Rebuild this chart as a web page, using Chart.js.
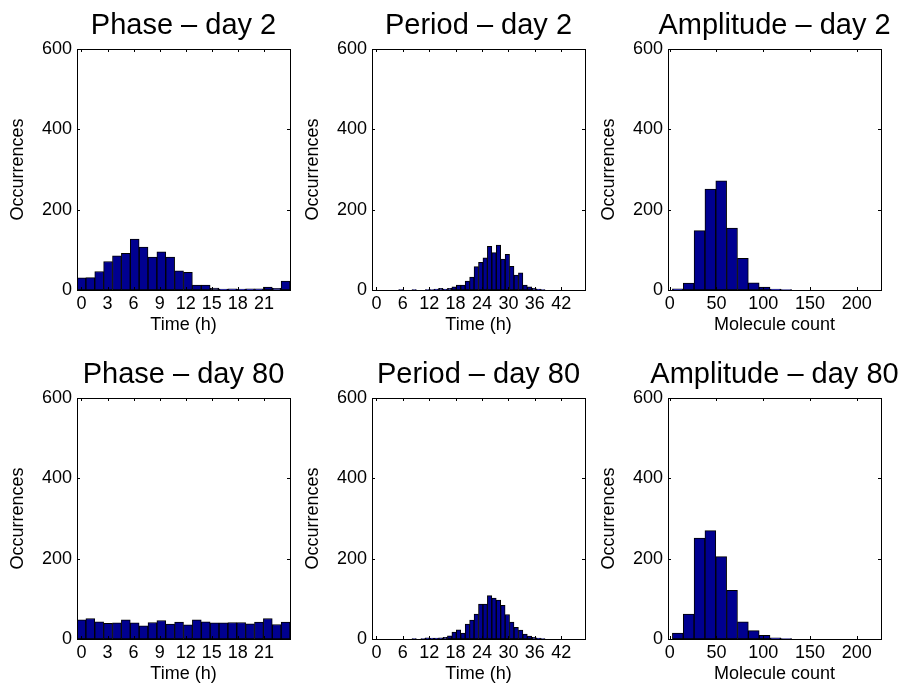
<!DOCTYPE html>
<html>
<head>
<meta charset="utf-8">
<script src="https://cdn.jsdelivr.net/npm/chart.js@4.4.0/dist/chart.umd.min.js"></script>
<style>
  html, body { margin: 0; padding: 0; background: #fff; overflow: hidden; }
  body { width: 904px; height: 695px; position: relative; }
  canvas { position: absolute; }
</style>
</head>
<body>
<script>
// contagens dos histogramas
var phaseDay2 = [30, 31, 46, 71, 85, 91, 127, 107, 82, 95, 82, 48, 44, 12, 12, 5, 2, 3, 2, 3, 3, 7, 4, 22];
var phaseDay80 = [48, 51, 43, 39, 40, 48, 40, 33, 41, 46, 37, 42, 35, 48, 43, 40, 40, 41, 41, 38, 42, 51, 36, 42];

var periodDay2 = [0, 0, 0, 0, 0, 0, 1, 0, 0, 1, 0, 0, 1, 1, 2, 4, 2, 4, 8, 12, 12, 22, 32, 58,
                  69, 80, 109, 93, 112, 77, 89, 59, 37, 43, 12, 8, 4, 2, 1, 0, 0, 0, 0, 0, 0, 0, 0, 0];
var periodDay80 = [0, 0, 0, 0, 0, 0, 0, 0, 0, 1, 0, 1, 3, 2, 2, 3, 4, 8, 17, 23, 15, 37, 47, 62,
                   87, 87, 108, 102, 97, 84, 61, 42, 29, 22, 12, 7, 4, 2, 1, 0, 0, 0, 0, 0, 0, 0, 0, 0];

var ampDay2 = [3, 17, 148, 251, 272, 154, 79, 18, 7, 2, 1, 0, 0, 0, 0, 0, 0, 0, 0];
var ampDay80 = [15, 62, 251, 270, 205, 121, 43, 21, 9, 3, 1, 0, 0, 0, 0, 0, 0, 0, 0];

var phaseTicks = [0, 3, 6, 9, 12, 15, 18, 21];
var periodTicks = [0, 6, 12, 18, 24, 30, 36, 42];
var ampTicks = [0, 50, 100, 150, 200];
var yTicks = [0, 200, 400, 600];

// faixa do eixo x e largura das classes de cada tipo de painel
var binsPhase = { min: -0.51, max: 24.0, start: -0.51, width: 1.0213 };
var binsPeriod = { min: -1.0, max: 47.4, start: -1.0, width: 1.0083 };
var binsAmp = { min: -1.8, max: 226, start: 2.9, width: 11.6 };

var fonte = 'Liberation Sans, Arial, Helvetica, sans-serif';
var colunas = [77, 372, 668];
var linhas = [49, 398];

// caixa do eixo com marcas para dentro, estilo matlab
var caixaEixos = {
    id: 'caixaEixos',
    afterDatasetsDraw: function (chart) {
        var ctx = chart.ctx;
        var a = chart.chartArea;
        var sx = chart.scales.x;
        var sy = chart.scales.y;
        var t = 3;
        ctx.save();
        ctx.strokeStyle = '#000';
        ctx.lineWidth = 1;
        ctx.beginPath();
        sx.ticks.forEach(function (tk) {
            var px = Math.round(sx.getPixelForValue(tk.value)) + 0.5;
            ctx.moveTo(px, a.bottom);
            ctx.lineTo(px, a.bottom - t);
            ctx.moveTo(px, a.top);
            ctx.lineTo(px, a.top + t);
        });
        sy.ticks.forEach(function (tk) {
            var py = Math.round(sy.getPixelForValue(tk.value)) + 0.5;
            ctx.moveTo(a.left, py);
            ctx.lineTo(a.left + t, py);
            ctx.moveTo(a.right, py);
            ctx.lineTo(a.right - t, py);
        });
        ctx.stroke();
        ctx.strokeRect(a.left + 0.5, a.top + 0.5, a.width, a.height);
        ctx.restore();
    }
};

function fixarTicks(lista) {
    return function (scale) {
        scale.ticks = lista.map(function (v) { return { value: v }; });
    };
}

function criarPainel(coluna, linha, titulo, rotuloX, valores, bins, ticksX) {
    var canvas = document.createElement('canvas');
    canvas.width = 367;
    canvas.height = 340;
    canvas.style.left = (colunas[coluna] - 77) + 'px';
    canvas.style.top = (linhas[linha] - 49) + 'px';
    document.body.appendChild(canvas);

    var pontos = valores.map(function (v, k) {
        return { x: bins.start + (k + 0.5) * bins.width, y: v };
    });

    new Chart(canvas, {
        type: 'bar',
        data: {
            datasets: [{
                data: pontos,
                backgroundColor: '#000090',
                borderColor: '#000',
                borderWidth: 1,
                borderSkipped: false,
                barPercentage: 1,
                categoryPercentage: 1
            }]
        },
        options: {
            responsive: false,
            animation: false,
            devicePixelRatio: 1,
            layout: { padding: 0 },
            plugins: {
                legend: { display: false },
                tooltip: { enabled: false },
                title: {
                    display: true,
                    text: titulo,
                    color: '#000',
                    font: { family: fonte, size: 29, weight: 'normal' },
                    padding: { top: 8.9, bottom: 5.3 }
                }
            },
            scales: {
                x: {
                    type: 'linear',
                    min: bins.min,
                    max: bins.max,
                    offset: false,
                    grid: { display: false, drawTicks: false },
                    border: { display: false },
                    afterBuildTicks: fixarTicks(ticksX),
                    afterFit: function (s) { s.height = 50; s.paddingLeft = 0; s.paddingRight = 0; },
                    ticks: { color: '#000', font: { family: fonte, size: 18 }, padding: 3, maxRotation: 0, autoSkip: false },
                    title: { display: true, text: rotuloX, color: '#000', font: { family: fonte, size: 18 }, padding: { top: 0, bottom: 4 } }
                },
                y: {
                    min: 0,
                    max: 600,
                    grid: { display: false, drawTicks: false },
                    border: { display: false },
                    afterBuildTicks: fixarTicks(yTicks),
                    afterFit: function (s) { s.width = 77; s.paddingTop = 0; s.paddingBottom = 0; },
                    ticks: { color: '#000', font: { family: fonte, size: 18 }, padding: 5 },
                    title: { display: true, text: 'Occurrences', color: '#000', font: { family: fonte, size: 18 }, padding: { top: 7, bottom: 0 } }
                },
                // eixo vazio do lado direito, só para centralizar o título sobre o gráfico
                direita: {
                    position: 'right',
                    grid: { display: false, drawTicks: false },
                    border: { display: false },
                    ticks: { display: false },
                    afterFit: function (s) { s.width = 77; s.paddingTop = 0; s.paddingBottom = 0; }
                }
            }
        },
        plugins: [caixaEixos]
    });
}

criarPainel(0, 0, 'Phase \u2013 day 2', 'Time (h)', phaseDay2, binsPhase, phaseTicks);
criarPainel(1, 0, 'Period \u2013 day 2', 'Time (h)', periodDay2, binsPeriod, periodTicks);
criarPainel(2, 0, 'Amplitude \u2013 day 2', 'Molecule count', ampDay2, binsAmp, ampTicks);
criarPainel(0, 1, 'Phase \u2013 day 80', 'Time (h)', phaseDay80, binsPhase, phaseTicks);
criarPainel(1, 1, 'Period \u2013 day 80', 'Time (h)', periodDay80, binsPeriod, periodTicks);
criarPainel(2, 1, 'Amplitude \u2013 day 80', 'Molecule count', ampDay80, binsAmp, ampTicks);
</script>
</body>
</html>
